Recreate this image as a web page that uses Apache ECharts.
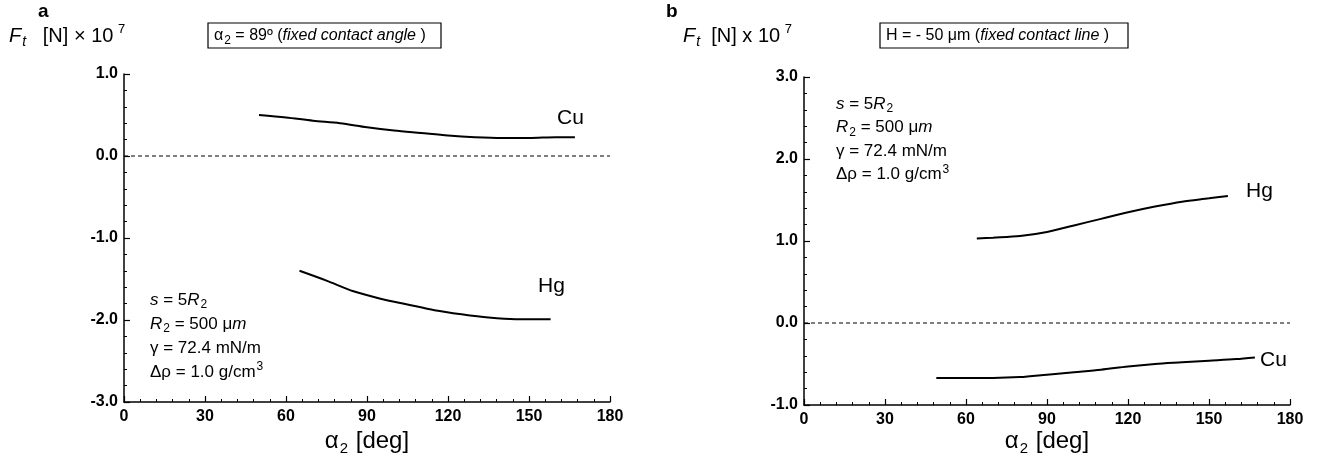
<!DOCTYPE html>
<html>
<head>
<meta charset="utf-8">
<script src="https://cdn.jsdelivr.net/npm/echarts@6/dist/echarts.min.js"></script>
<style>html,body{margin:0;padding:0;background:#fff}#c{width:1321px;height:467px}</style>
</head>
<body>
<div id="c"></div>
<script>
// ---- data ----
const xTicks = [0, 30, 60, 90, 120, 150, 180];
const yTicksA = [-3, -2, -1, 0, 1];
const yTicksB = [-1, 0, 1, 2, 3];
const zeroLine = [0, 180];

// panel a : alpha2 = 89 deg (fixed contact angle)
const cuA_alpha = [50, 60, 70, 80, 90, 100, 110, 120, 130, 140, 150, 160, 167];
const cuA_Ft    = [0.50, 0.47, 0.43, 0.40, 0.35, 0.31, 0.28, 0.25, 0.23, 0.22, 0.22, 0.23, 0.23];
const hgA_alpha = [65, 75, 85, 95, 105, 115, 125, 135, 145, 158];
const hgA_Ft    = [-1.40, -1.52, -1.65, -1.74, -1.81, -1.88, -1.93, -1.97, -1.99, -1.99];

// panel b : H = -50 um (fixed contact line)
const hgB_alpha = [64, 70, 80, 90, 100, 110, 120, 130, 140, 150, 157];
const hgB_Ft    = [1.03, 1.04, 1.06, 1.11, 1.19, 1.27, 1.35, 1.42, 1.48, 1.52, 1.55];
const cuB_alpha = [49, 60, 70, 80, 90, 100, 110, 120, 130, 140, 150, 160, 167];
const cuB_Ft    = [-0.67, -0.67, -0.67, -0.66, -0.63, -0.60, -0.57, -0.53, -0.50, -0.48, -0.46, -0.44, -0.42];

const zip = (a, b) => a.map((v, i) => [v, b[i]]);
const FONT = 'Liberation Sans, Arial, Helvetica, sans-serif';

function xAxisCfg(gi) {
  return {
    gridIndex: gi, type: 'value', min: xTicks[0], max: xTicks[xTicks.length - 1], interval: 30,
    axisLine: { show: true, onZero: false, lineStyle: { color: '#000', width: 1.5 } },
    axisTick: { show: true, inside: true, length: 6, lineStyle: { color: '#000', width: 1.2 } },
    minorTick: { show: true, splitNumber: 5, length: 3, lineStyle: { color: '#000', width: 1 } },
    splitLine: { show: false },
    axisLabel: { color: '#000', fontSize: 16, fontWeight: 'bold', fontFamily: FONT, margin: 7 }
  };
}
function yAxisCfg(gi, ticks) {
  return {
    gridIndex: gi, type: 'value', min: ticks[0], max: ticks[ticks.length - 1], interval: 1,
    axisLine: { show: true, onZero: false, lineStyle: { color: '#000', width: 1.5 } },
    axisTick: { show: true, inside: true, length: 6, lineStyle: { color: '#000', width: 1.2 } },
    minorTick: { show: true, splitNumber: 5, length: 3, lineStyle: { color: '#000', width: 1 } },
    splitLine: { show: false },
    axisLabel: { color: '#000', fontSize: 16, fontWeight: 'bold', fontFamily: FONT, margin: 6,
      formatter: v => v.toFixed(1) }
  };
}
function curve(gi, data) {
  return { type: 'line', xAxisIndex: gi, yAxisIndex: gi, data, smooth: 0.3,
    showSymbol: false, lineStyle: { color: '#000', width: 2 }, silent: true, animation: false };
}
function dashed(gi) {
  return { type: 'line', xAxisIndex: gi, yAxisIndex: gi, data: zeroLine.map(x => [x, 0]),
    showSymbol: false, lineStyle: { color: '#000', width: 1.2, type: [4, 3] }, silent: true, animation: false };
}

const rich = {
  n: { fontSize: 17, fontFamily: FONT, fill: '#000', lineHeight: 22, verticalAlign: 'middle' },
  i: { fontSize: 17, fontFamily: FONT, fontStyle: 'italic', fill: '#000', lineHeight: 22, verticalAlign: 'middle' },
  sub: { fontSize: 12, fontFamily: FONT, fill: '#000', lineHeight: 22, verticalAlign: 'bottom', padding: [0, 0, 0, 1] },
  sup: { fontSize: 12, fontFamily: FONT, fill: '#000', lineHeight: 22, verticalAlign: 'top', padding: [0, 0, 0, 1] },
  sm: { fontSize: 16, fontFamily: FONT, fill: '#000', lineHeight: 22, verticalAlign: 'middle' },
  smi: { fontSize: 16, fontFamily: FONT, fontStyle: 'italic', fill: '#000', lineHeight: 22, verticalAlign: 'middle' },
  big: { fontSize: 20, fontFamily: FONT, fill: '#000', lineHeight: 26, verticalAlign: 'middle' },
  bigi: { fontSize: 20, fontFamily: FONT, fontStyle: 'italic', fill: '#000', lineHeight: 26, verticalAlign: 'middle' },
  bsubi: { fontSize: 14, fontFamily: FONT, fontStyle: 'italic', fill: '#000', lineHeight: 26, verticalAlign: 'bottom', padding: [0, 0, 0, 1] },
  bsup: { fontSize: 13, fontFamily: FONT, fill: '#000', lineHeight: 26, verticalAlign: 'top', padding: [0, 0, 0, 1] },
  ax: { fontSize: 24, fontFamily: FONT, fill: '#000', lineHeight: 30, verticalAlign: 'middle' },
  axsub: { fontSize: 15, fontFamily: FONT, fill: '#000', lineHeight: 30, verticalAlign: 'bottom', padding: [0, 1, 0, 1] }
};
function txt(x, y, text, align) {
  return { type: 'text', x, y, silent: true,
    style: { text, rich, align: align || 'left', verticalAlign: 'middle', fill: '#000', fontFamily: FONT } };
}
function plain(x, y, text, size, weight) {
  return { type: 'text', x, y, silent: true,
    style: { text, fontSize: size, fontWeight: weight || 'normal', fontFamily: FONT, fill: '#000', align: 'left', verticalAlign: 'middle' } };
}
function box(x, y, w, h) {
  return { type: 'rect', shape: { x, y, width: w, height: h }, silent: true,
    style: { fill: 'none', stroke: '#000', lineWidth: 1.2 } };
}
function params(x, y0, dy) {
  return [
    txt(x, y0, '{i|s}{n| = 5}{i|R}{sub|2}'),
    txt(x, y0 + dy, '{i|R}{sub|2}{n| = 500 μ}{i|m}'),
    txt(x, y0 + 2 * dy, '{n|γ = 72.4 mN/m}'),
    txt(x, y0 + 3 * dy, '{n|Δρ = 1.0 g/cm}{sup|3}')
  ];
}

const chart = echarts.init(document.getElementById('c'), null, { renderer: 'canvas' });
chart.setOption({
  animation: false,
  backgroundColor: '#fff',
  grid: [
    { left: 124, top: 74, width: 486, height: 328 },
    { left: 804, top: 77, width: 486, height: 328 }
  ],
  xAxis: [xAxisCfg(0), xAxisCfg(1)],
  yAxis: [yAxisCfg(0, yTicksA), yAxisCfg(1, yTicksB)],
  series: [
    dashed(0), curve(0, zip(cuA_alpha, cuA_Ft)), curve(0, zip(hgA_alpha, hgA_Ft)),
    dashed(1), curve(1, zip(hgB_alpha, hgB_Ft)), curve(1, zip(cuB_alpha, cuB_Ft))
  ],
  graphic: [
    plain(38, 12, 'a', 19, 'bold'),
    plain(666, 12, 'b', 19, 'bold'),
    txt(9, 36, '{bigi|F}{bsubi|t}{big|   [N] × 10}{bsup| 7}'),
    txt(683, 36, '{bigi|F}{bsubi|t}{big|  [N] x 10}{bsup| 7}'),
    box(208, 23, 233, 25),
    txt(214, 36, '{sm|α}{sub|2}{sm| = 89º (}{smi|fixed contact angle}{sm| )}'),
    box(880, 23, 248, 25),
    txt(886, 36, '{sm|H = - 50 μm (}{smi|fixed contact line}{sm| )}'),
    ...params(150, 300, 24),
    ...params(836, 104, 23.5),
    plain(557, 118, 'Cu', 21),
    plain(538, 286, 'Hg', 21),
    plain(1246, 191, 'Hg', 21),
    plain(1260, 360, 'Cu', 21),
    txt(367, 441, '{ax|α}{axsub|2}{ax| [deg]}', 'center'),
    txt(1047, 441, '{ax|α}{axsub|2}{ax| [deg]}', 'center')
  ]
});
</script>
</body>
</html>
